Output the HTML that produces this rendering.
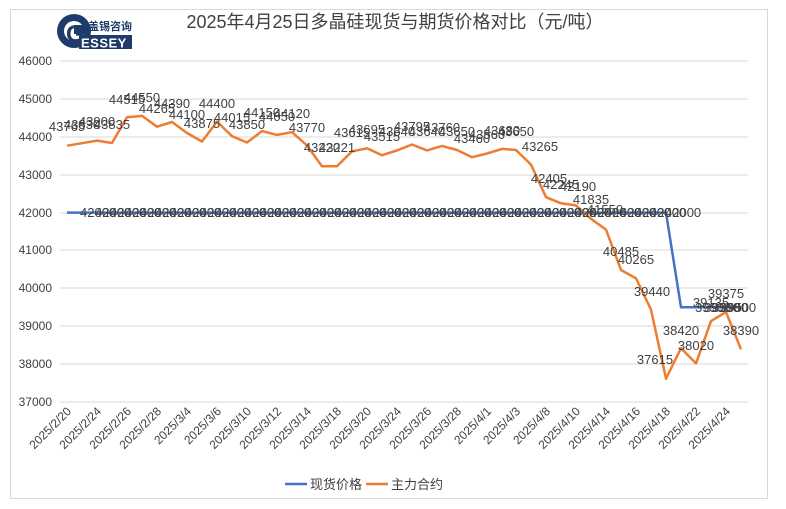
<!DOCTYPE html>
<html><head><meta charset="utf-8"><style>
body{margin:0;background:#fff;width:786px;height:509px;overflow:hidden}
svg{display:block;font-family:"Liberation Sans","Noto Sans CJK SC",sans-serif}
</style></head><body>
<svg width="786" height="509" viewBox="0 0 786 509">
<rect x="0" y="0" width="786" height="509" fill="#fff"/>
<rect x="10.5" y="9.5" width="757" height="489" fill="#fff" stroke="#d9d9d9"/>
<!-- logo -->
<g>
<circle cx="74" cy="31" r="17" fill="#1f3b6b"/>
<circle cx="74" cy="31" r="10" fill="#fff"/>
<rect x="74" y="25" width="14" height="9" fill="#1f3b6b"/>
<text x="66" y="42" font-size="24" font-weight="bold" fill="#1f3b6b">G</text>
<rect x="79" y="35" width="53" height="14" fill="#1f3b6b"/>
<text x="81" y="47.5" font-size="13" font-weight="bold" fill="#fff" letter-spacing="0.5">ESSEY</text>
<text x="88" y="30" font-size="11" fill="#1f3b6b" font-weight="bold">盖锡咨询</text>
</g>
<text x="395" y="28" font-size="18" fill="#404040" text-anchor="middle">2025年4月25日多晶硅现货与期货价格对比（元/吨）</text>
<!-- grid -->
<g stroke="#d9d9d9" stroke-width="1">
<line x1="60" y1="61" x2="748" y2="61"/><line x1="60" y1="99" x2="748" y2="99"/>
<line x1="60" y1="137" x2="748" y2="137"/><line x1="60" y1="175" x2="748" y2="175"/>
<line x1="60" y1="213" x2="748" y2="213"/><line x1="60" y1="250" x2="748" y2="250"/>
<line x1="60" y1="288" x2="748" y2="288"/><line x1="60" y1="326" x2="748" y2="326"/>
<line x1="60" y1="364" x2="748" y2="364"/><line x1="60" y1="402" x2="748" y2="402"/>
</g>
<g font-size="12" fill="#404040" text-anchor="end">
<text x="52" y="65">46000</text><text x="52" y="103">45000</text><text x="52" y="141">44000</text>
<text x="52" y="179">43000</text><text x="52" y="217">42000</text><text x="52" y="254">41000</text>
<text x="52" y="292">40000</text><text x="52" y="330">39000</text><text x="52" y="368">38000</text>
<text x="52" y="406">37000</text>
</g>
<!-- x labels -->
<g font-size="12" fill="#404040" text-anchor="end">
<text transform="translate(72,412) rotate(-45)">2025/2/20</text>
<text transform="translate(102,412) rotate(-45)">2025/2/24</text>
<text transform="translate(132,412) rotate(-45)">2025/2/26</text>
<text transform="translate(162,412) rotate(-45)">2025/2/28</text>
<text transform="translate(192,412) rotate(-45)">2025/3/4</text>
<text transform="translate(222,412) rotate(-45)">2025/3/6</text>
<text transform="translate(252,412) rotate(-45)">2025/3/10</text>
<text transform="translate(282,412) rotate(-45)">2025/3/12</text>
<text transform="translate(312,412) rotate(-45)">2025/3/14</text>
<text transform="translate(342,412) rotate(-45)">2025/3/18</text>
<text transform="translate(372,412) rotate(-45)">2025/3/20</text>
<text transform="translate(402,412) rotate(-45)">2025/3/24</text>
<text transform="translate(432,412) rotate(-45)">2025/3/26</text>
<text transform="translate(462,412) rotate(-45)">2025/3/28</text>
<text transform="translate(492,412) rotate(-45)">2025/4/1</text>
<text transform="translate(521,412) rotate(-45)">2025/4/3</text>
<text transform="translate(551,412) rotate(-45)">2025/4/8</text>
<text transform="translate(581,412) rotate(-45)">2025/4/10</text>
<text transform="translate(611,412) rotate(-45)">2025/4/14</text>
<text transform="translate(641,412) rotate(-45)">2025/4/16</text>
<text transform="translate(671,412) rotate(-45)">2025/4/18</text>
<text transform="translate(701,412) rotate(-45)">2025/4/22</text>
<text transform="translate(731,412) rotate(-45)">2025/4/24</text>
</g>
<!-- spot line -->
<polyline fill="none" stroke="#4472c4" stroke-width="2.5" stroke-linejoin="round" points="67,212.6 666,212.6 681,307.3 741,307.3"/>
<!-- futures line -->
<polyline fill="none" stroke="#ed7d31" stroke-width="2.5" stroke-linejoin="round" points="67,145.7 82,143.2 97,140.6 112,143 127,117.3 142,115.9 157,126.7 172,122 187,133 202,141.5 217,121.6 232,136.2 247,142.5 262,131.1 277,134.9 292,132.2 307,145.5 322,166.3 337,166.3 352,151.4 367,148.3 382,155.2 397,150.4 412,144.5 427,150.4 442,145.9 457,150 472,157.2 487,153.5 502,148.9 516,150 531,164.6 546,197.2 561,203.3 576,205.4 591,218.8 606,229.6 621,270 636,278.3 651,309.6 666,378.7 681,348.2 696,363.4 711,321.1 726,312 741,349.3"/>
<!-- spot labels -->
<g font-size="13" fill="#404040">
<text x="80" y="217">42000</text><text x="95" y="217">42000</text><text x="110" y="217">42000</text><text x="125" y="217">42000</text><text x="140" y="217">42000</text><text x="155" y="217">42000</text><text x="170" y="217">42000</text><text x="185" y="217">42000</text><text x="200" y="217">42000</text><text x="215" y="217">42000</text><text x="230" y="217">42000</text><text x="245" y="217">42000</text><text x="260" y="217">42000</text><text x="275" y="217">42000</text><text x="290" y="217">42000</text><text x="305" y="217">42000</text><text x="320" y="217">42000</text><text x="335" y="217">42000</text><text x="350" y="217">42000</text><text x="365" y="217">42000</text><text x="380" y="217">42000</text><text x="395" y="217">42000</text><text x="410" y="217">42000</text><text x="425" y="217">42000</text><text x="440" y="217">42000</text><text x="455" y="217">42000</text><text x="470" y="217">42000</text><text x="485" y="217">42000</text><text x="500" y="217">42000</text><text x="515" y="217">42000</text><text x="530" y="217">42000</text><text x="545" y="217">42000</text><text x="560" y="217">42000</text><text x="575" y="217">42000</text><text x="590" y="217">42000</text><text x="605" y="217">42000</text><text x="620" y="217">42000</text><text x="635" y="217">42000</text><text x="650" y="217">42000</text><text x="665" y="217">42000</text>
<text x="695" y="312">39500</text><text x="704" y="312">39500</text><text x="712" y="312">39500</text><text x="720" y="312">39500</text>
</g>
<!-- futures labels -->
<g font-size="13" fill="#404040" text-anchor="middle">
<text x="67" y="131">43765</text><text x="82" y="129">43830</text><text x="97" y="126">43900</text><text x="112" y="129">43835</text>
<text x="127" y="104">44515</text><text x="142" y="102">44550</text><text x="157" y="113">44265</text><text x="172" y="108">44390</text>
<text x="187" y="119">44100</text><text x="202" y="128">43875</text><text x="217" y="108">44400</text><text x="232" y="122">44015</text>
<text x="247" y="129">43850</text><text x="262" y="117">44150</text><text x="277" y="121">44050</text><text x="292" y="118">44120</text>
<text x="307" y="132">43770</text><text x="322" y="152">43220</text><text x="337" y="152">43221</text><text x="352" y="137">43615</text>
<text x="367" y="134">43695</text><text x="382" y="141">43515</text><text x="397" y="136">43640</text><text x="412" y="131">43795</text>
<text x="427" y="136">43640</text><text x="442" y="132">43760</text><text x="457" y="136">43650</text><text x="472" y="143">43460</text>
<text x="487" y="139">43560</text><text x="502" y="135">43680</text><text x="516" y="136">43650</text><text x="540" y="151">43265</text>
<text x="549" y="183">42405</text><text x="561" y="189">42245</text><text x="578" y="191">42190</text><text x="591" y="204">41835</text>
<text x="605" y="214">41550</text><text x="621" y="256">40485</text><text x="636" y="264">40265</text><text x="652" y="296">39440</text>
<text x="655" y="364">37615</text><text x="681" y="335">38420</text><text x="696" y="350">38020</text><text x="711" y="307">39135</text>
<text x="726" y="298">39375</text><text x="741" y="335">38390</text>
</g>
<!-- legend -->
<line x1="285" y1="484" x2="307" y2="484" stroke="#4472c4" stroke-width="2.5"/>
<text x="310" y="489" font-size="13" fill="#404040">现货价格</text>
<line x1="366" y1="484" x2="388" y2="484" stroke="#ed7d31" stroke-width="2.5"/>
<text x="391" y="489" font-size="13" fill="#404040">主力合约</text>
</svg>
</body></html>
